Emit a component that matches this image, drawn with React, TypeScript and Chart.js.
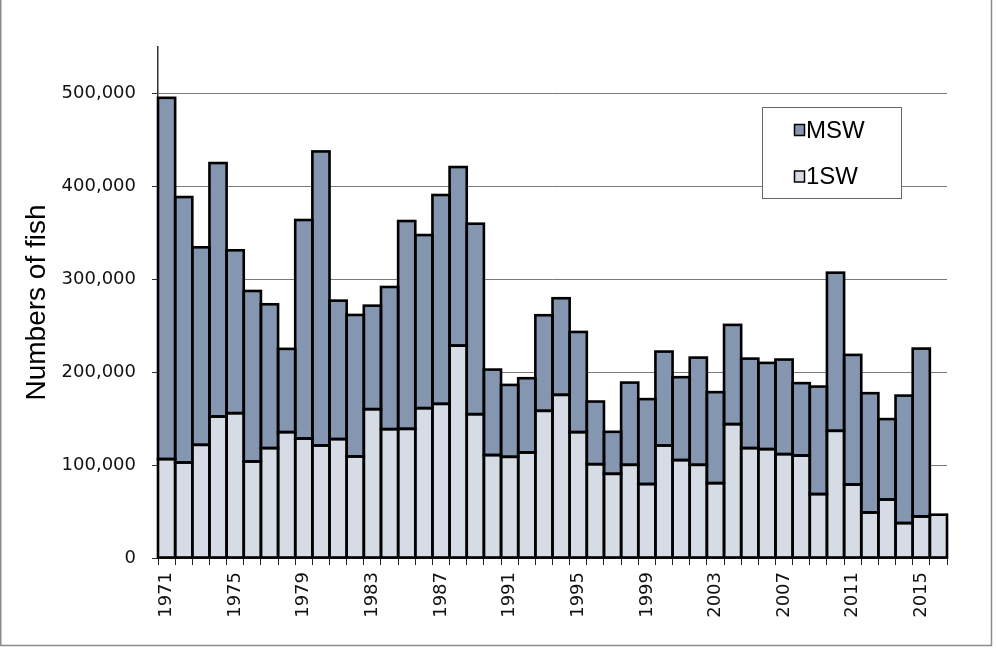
import React, { useEffect, useRef } from "react";
import { Chart, registerables } from "chart.js";

Chart.register(...registerables);

const years: string[] = [
  "1971","1972","1973","1974","1975","1976","1977","1978","1979","1980",
  "1981","1982","1983","1984","1985","1986","1987","1988","1989","1990",
  "1991","1992","1993","1994","1995","1996","1997","1998","1999","2000",
  "2001","2002","2003","2004","2005","2006","2007","2008","2009","2010",
  "2011","2012","2013","2014","2015","2016",
];

const oneSW: number[] = [
  106500, 102800, 121800, 152300, 155900, 103900, 118300, 135500, 128600, 121100,
  128000, 109300, 160200, 138700, 139000, 161300, 165900, 228600, 154800, 110800,
  108900, 113600, 158400, 175600, 135500, 101000, 90600, 100300, 79600, 121100,
  105400, 100300, 80600, 144100, 118300, 117200, 111800, 110300, 68800, 136900,
  79100, 49000, 63000, 37600, 44700, 46600,
];

const msw: (number | null)[] = [
  388800, 285700, 212600, 272800, 175300, 183500, 154800, 89600, 235200, 316500,
  149000, 152300, 111400, 153000, 223700, 186300, 224800, 192200, 205000, 92000,
  77400, 79900, 102900, 104000, 107800, 67400, 45200, 88500, 91400, 101100,
  89200, 115400, 97900, 106800, 96300, 92800, 101800, 77900, 115700, 170200,
  139500, 128400, 86500, 137200, 180700, null,
];

const yTicks: number[] = [0, 100000, 200000, 300000, 400000, 500000];
const legendOrder: string[] = ["MSW", "1SW"];

const MSW_COLOR = "#8596B0";
const ONESW_COLOR = "#D6DCE5";

export default function App() {
  const ref = useRef<HTMLCanvasElement | null>(null);

  useEffect(() => {
    if (!ref.current) return;

    const frame = {
      id: "frame",
      beforeDraw(chart: any) {
        const { ctx } = chart;
        ctx.save();
        ctx.fillStyle = "#ffffff";
        ctx.fillRect(0, 0, chart.width, chart.height);
        ctx.strokeStyle = "#8c8c8c";
        ctx.lineWidth = 1.5;
        ctx.beginPath();
        ctx.moveTo(0.75, 0);
        ctx.lineTo(0.75, 645.5);
        ctx.lineTo(991.5, 645.5);
        ctx.lineTo(991.5, 0);
        ctx.stroke();
        ctx.restore();
      },
    };

    // Outline each bar segment with a centred stroke (Excel style), using the
    // geometry of the bar elements that Chart.js laid out.
    const outlines = {
      id: "outlines",
      afterDatasetsDraw(chart: any) {
        const { ctx } = chart;
        ctx.save();
        ctx.strokeStyle = "#000";
        ctx.lineWidth = 2.6;
        ctx.lineJoin = "miter";
        chart.data.datasets.forEach((ds: any, di: number) => {
          const meta = chart.getDatasetMeta(di);
          meta.data.forEach((el: any, i: number) => {
            if (ds.data[i] === null || ds.data[i] === undefined) return;
            const { x, y, base, width } = el.getProps(["x", "y", "base", "width"], true);
            const top = Math.min(y, base);
            const h = Math.abs(base - y);
            ctx.strokeRect(x - width / 2, top, width, h);
          });
        });
        ctx.restore();
      },
    };

    const boxLegend = {
      id: "boxLegend",
      afterDraw(chart: any) {
        const { ctx } = chart;
        const x = 762.5, y = 107.5, w = 139, h = 91;
        ctx.save();
        ctx.fillStyle = "#ffffff";
        ctx.fillRect(x, y, w, h);
        ctx.strokeStyle = "#666666";
        ctx.lineWidth = 1;
        ctx.strokeRect(x, y, w, h);
        legendOrder.forEach((name, i) => {
          const ds = chart.data.datasets.find((d: any) => d.label === name);
          const cy = 130 + i * 46.5;
          ctx.fillStyle = ds.backgroundColor;
          ctx.fillRect(794.5, cy - 5.5, 10, 11);
          ctx.strokeStyle = "#000";
          ctx.lineWidth = 1.5;
          ctx.strokeRect(794.5, cy - 5.5, 10, 11);
          ctx.fillStyle = "#000";
          ctx.font = "24px 'Liberation Sans', Arial, sans-serif";
          ctx.textBaseline = "middle";
          ctx.textAlign = "left";
          ctx.fillText(name, 806, cy + 1);
        });
        ctx.restore();
      },
    };

    const chart = new Chart(ref.current, {
      type: "bar",
      data: {
        labels: years,
        datasets: [
          {
            label: "1SW",
            data: oneSW,
            backgroundColor: ONESW_COLOR,
            borderWidth: 0,
            inflateAmount: 0,
            barPercentage: 1,
            categoryPercentage: 1,
          },
          {
            label: "MSW",
            data: msw,
            backgroundColor: MSW_COLOR,
            borderWidth: 0,
            inflateAmount: 0,
            barPercentage: 1,
            categoryPercentage: 1,
          },
        ],
      },
      options: {
        responsive: false,
        animation: false,
        layout: { padding: { left: 0, top: 47, right: 49, bottom: 0 } },
        plugins: {
          legend: { display: false },
          tooltip: { enabled: false },
        },
        scales: {
          x: {
            stacked: true,
            offset: true,
            afterFit: (scale: any) => {
              scale.height = 90;
            },
            grid: {
              offset: true,
              drawOnChartArea: false,
              drawTicks: true,
              tickLength: 7,
              color: "#222",
              lineWidth: 1,
            },
            border: { display: true, color: "#222", width: 1.5 },
            ticks: {
              autoSkip: false,
              maxRotation: 90,
              minRotation: 90,
              padding: 7,
              color: "#111",
              font: { family: "'DejaVu Sans', sans-serif", size: 18 },
              callback: (_v: any, i: number) => (i % 4 === 0 ? years[i] : ""),
            },
          },
          y: {
            stacked: true,
            min: 0,
            max: 550000,
            afterFit: (scale: any) => {
              scale.width = 158;
            },
            afterBuildTicks: (scale: any) => {
              scale.ticks = yTicks.map((v) => ({ value: v }));
            },
            grid: {
              color: "#7a7a7a",
              lineWidth: 1,
              drawTicks: true,
              tickLength: 6,
              tickColor: "#333",
            },
            border: { display: true, color: "#333", width: 1.5 },
            ticks: {
              padding: 16,
              color: "#111",
              font: { family: "'DejaVu Sans', sans-serif", size: 18 },
              callback: (v: any) => Number(v).toLocaleString("en-US"),
            },
            title: {
              display: true,
              text: "Numbers of fish",
              color: "#000",
              font: { family: "'Liberation Sans', Arial, sans-serif", size: 28 },
              padding: { top: 20, bottom: 0 },
            },
          },
        },
      },
      plugins: [frame, outlines, boxLegend],
    });

    return () => chart.destroy();
  }, []);

  return (
    <div style={{ position: "fixed", left: 0, top: 0, width: 996, height: 648, background: "#fff" }}>
      <canvas ref={ref} width={996} height={648} style={{ width: 996, height: 648, display: "block" }} />
    </div>
  );
}
